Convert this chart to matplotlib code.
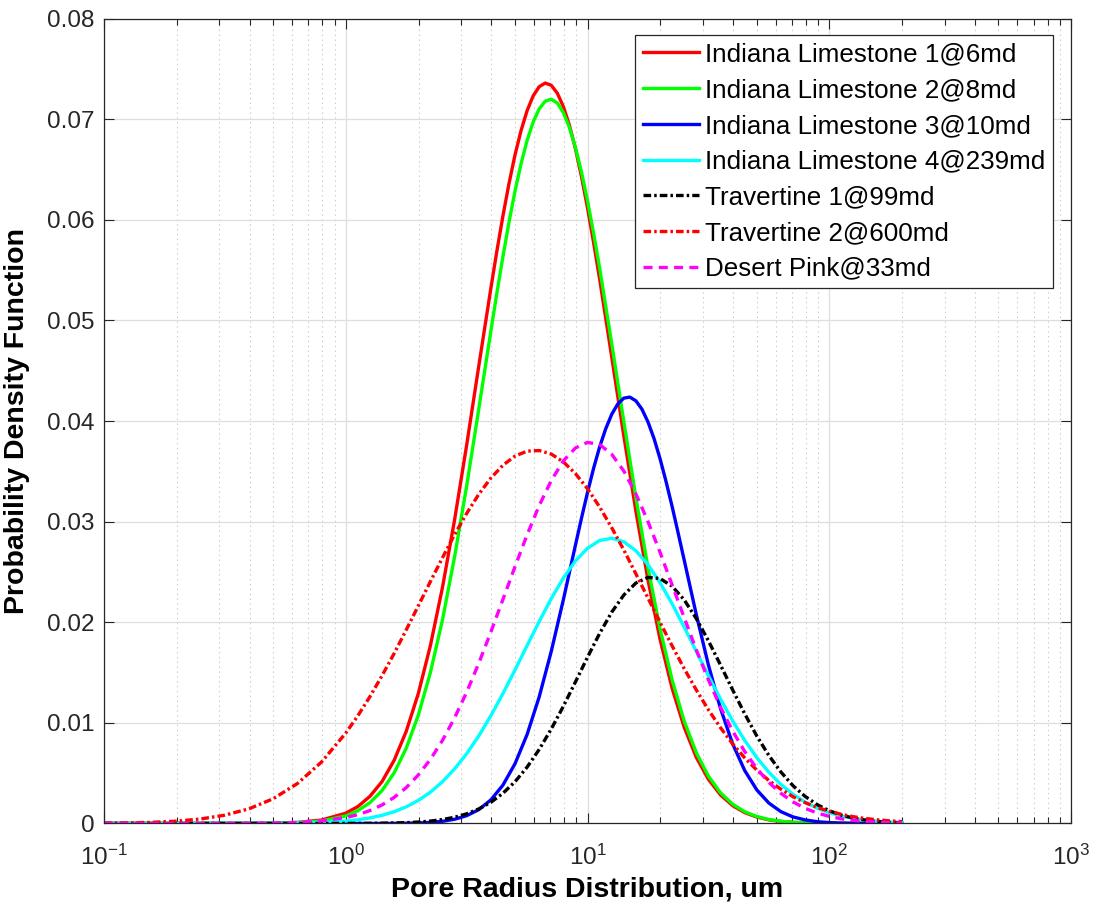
import numpy as np
import matplotlib
matplotlib.use("Agg")
import matplotlib.pyplot as plt
from matplotlib.ticker import LogLocator, FixedLocator, NullFormatter

plt.rcParams["font.family"] = ["Liberation Sans", "DejaVu Sans"]
plt.rcParams["mathtext.fontset"] = "custom"
plt.rcParams["mathtext.rm"] = "Liberation Sans"
plt.rcParams["mathtext.it"] = "Liberation Sans:italic"
plt.rcParams["lines.scale_dashes"] = False

# pore radius (um), shared by all curves
radius = [0.1, 0.126, 0.158, 0.2, 0.251, 0.316, 0.398, 0.501, 0.631, 0.794,
          1.0, 1.122, 1.259, 1.413, 1.585, 1.778, 1.995, 2.239, 2.512, 2.818,
          3.162, 3.548, 3.981, 4.467, 5.012, 5.623, 6.310, 7.079, 7.943, 8.913,
          10.0, 11.22, 12.59, 14.13, 15.85, 17.78, 19.95, 22.39, 25.12, 28.18,
          31.62, 35.48, 39.81, 44.67, 50.12, 56.23, 63.10, 70.79, 79.43, 89.13,
          100.0, 112.2, 125.9, 141.3, 158.5, 177.8, 200.0]

il1 = [0, 0, 0, 0, 0, 0, 0.000006, 0.000026, 0.0001, 0.00034,
       0.00102, 0.00168, 0.0027, 0.00417, 0.00628, 0.00915, 0.01291, 0.01769, 0.02347, 0.03016,
       0.0376, 0.04545, 0.05318, 0.06039, 0.06646, 0.07085, 0.07324, 0.07338, 0.07126, 0.06707,
       0.06118, 0.05413, 0.04638, 0.03852, 0.03104, 0.02422, 0.01831, 0.01342, 0.00955, 0.00657,
       0.00439, 0.00284, 0.00178, 0.00108, 0.00064, 0.00036, 0.0002, 0.00011, 0.00006, 0.00003,
       0.00001, 0, 0, 0, 0, 0, 0]
il2 = [0, 0, 0, 0, 0, 0, 0.000003, 0.000017, 0.000067, 0.00024,
       0.00075, 0.00127, 0.00207, 0.00328, 0.00503, 0.00747, 0.01076, 0.01501, 0.02024, 0.02649,
       0.03354, 0.04118, 0.04893, 0.05635, 0.06286, 0.06789, 0.07103, 0.07199, 0.07067, 0.0672,
       0.06189, 0.05522, 0.04771, 0.03994, 0.03238, 0.02542, 0.01935, 0.01425, 0.01016, 0.00703,
       0.00471, 0.00305, 0.00192, 0.00117, 0.00069, 0.00039, 0.00022, 0.00012, 0.00006, 0.00003,
       0.00001, 0, 0, 0, 0, 0, 0]
il3 = [0, 0, 0, 0, 0, 0, 0, 0, 0, 0,
       0, 0, 0, 0, 0.00001, 0.000022, 0.000049, 0.000104, 0.000213, 0.000415,
       0.000771, 0.00137, 0.00234, 0.00381, 0.00594, 0.00884, 0.01258, 0.01711, 0.02224, 0.02767,
       0.03291, 0.03742, 0.04067, 0.04228, 0.04201, 0.03992, 0.03626, 0.03149, 0.02616, 0.02076,
       0.01576, 0.01143, 0.00793, 0.00527, 0.00334, 0.00203, 0.00117, 0.00065, 0.00035, 0.000175,
       0.000085, 0.000039, 0.000017, 0.000007, 0, 0, 0]
il4 = [0, 0, 0, 0, 0, 0.000001, 0.000004, 0.000012, 0.000036, 0.000096,
       0.00024, 0.000366, 0.00055, 0.00081, 0.00117, 0.00165, 0.00229, 0.00311, 0.00415, 0.00542,
       0.00693, 0.0087, 0.01071, 0.01291, 0.01526, 0.01768, 0.02007, 0.02236, 0.0244, 0.0261,
       0.02736, 0.02813, 0.02835, 0.028, 0.02711, 0.02573, 0.02393, 0.02183, 0.01951, 0.0171,
       0.01469, 0.01237, 0.01021, 0.00826, 0.00655, 0.00509, 0.00388, 0.0029, 0.00212, 0.00152,
       0.00107, 0.00074, 0.0005, 0.00033, 0.000215, 0.000137, 0.000085]
trav1 = [0, 0, 0, 0, 0, 0, 0, 0, 0, 0,
         0.000004, 0.000007, 0.000013, 0.000025, 0.000046, 0.000081, 0.00014, 0.000236, 0.000387, 0.000616,
         0.000954, 0.00144, 0.0021, 0.003, 0.00415, 0.0056, 0.00736, 0.00939, 0.01165, 0.01407,
         0.01653, 0.01889, 0.021, 0.02271, 0.0239, 0.02446, 0.02435, 0.02358, 0.02222, 0.02037,
         0.01816, 0.01575, 0.01329, 0.01091, 0.0087, 0.00676, 0.00511, 0.00375, 0.00269, 0.00187,
         0.00126, 0.00083, 0.00053, 0.00033, 0.0002, 0.00012, 0.000068]
trav2 = [0.000024, 0.000053, 0.000113, 0.000229, 0.000445, 0.000825, 0.00146, 0.00246, 0.00397, 0.00611,
         0.00899, 0.01071, 0.01261, 0.0147, 0.0169, 0.01924, 0.02163, 0.02405, 0.02642, 0.02871,
         0.03082, 0.03272, 0.03433, 0.03561, 0.03652, 0.03701, 0.03707, 0.03672, 0.03594, 0.03478,
         0.03327, 0.03146, 0.0294, 0.02718, 0.02481, 0.02241, 0.01999, 0.01765, 0.01538, 0.01327,
         0.0113, 0.00952, 0.00792, 0.00652, 0.00531, 0.00427, 0.0034, 0.00266, 0.00207, 0.00159,
         0.00121, 0.00091, 0.00067, 0.00049, 0.00036, 0.00026, 0.00018]
desert = [0, 0, 0, 0, 0, 0.000003, 0.000011, 0.000034, 0.000095, 0.000246,
          0.000584, 0.000874, 0.00128, 0.00184, 0.00259, 0.00356, 0.00482, 0.00637, 0.00826, 0.01049,
          0.01305, 0.01592, 0.01903, 0.02227, 0.02553, 0.02869, 0.0316, 0.03409, 0.03604, 0.03733,
          0.03788, 0.03767, 0.0367, 0.03503, 0.03276, 0.03002, 0.02695, 0.0237, 0.02045, 0.01726,
          0.01428, 0.01157, 0.0092, 0.00716, 0.00546, 0.00408, 0.00299, 0.00214, 0.0015, 0.00104,
          0.0007, 0.00046, 0.0003, 0.00019, 0.000118, 0.000072, 0.000043]

# extra readings around the narrow peaks
peak_r_a = [4.217, 4.732, 5.309, 5.957, 6.683, 7.499, 8.414, 9.441, 10.59]
il1_peak = [0.0569, 0.0636, 0.06888, 0.07232, 0.0736, 0.07259, 0.0694, 0.06431, 0.05777]
il2_peak = [0.05273, 0.05975, 0.06558, 0.06972, 0.0718, 0.07162, 0.06919, 0.06475, 0.0587]
peak_r_b = [9.441, 10.59, 11.89, 13.34, 14.96, 16.79, 18.84, 21.13, 23.71]
il3_peak = [0.03035, 0.03529, 0.03923, 0.0417, 0.04238, 0.04118, 0.03826, 0.03398, 0.02886]

labels = ["Indiana Limestone 1@6md", "Indiana Limestone 2@8md",
          "Indiana Limestone 3@10md", "Indiana Limestone 4@239md",
          "Travertine 1@99md", "Travertine 2@600md", "Desert Pink@33md"]


def merged(extra_r, extra_y, y):
    r = np.array(radius + extra_r)
    v = np.array(y + extra_y)
    order = np.argsort(r, kind="stable")
    return r[order], v[order]


curves = [merged(peak_r_a, il1_peak, il1),
          merged(peak_r_a, il2_peak, il2),
          merged(peak_r_b, il3_peak, il3),
          (radius, il4), (radius, trav1), (radius, trav2), (radius, desert)]
colors = ["#ff0000", "#00ff00", "#0000ff", "#00ffff", "#000000", "#ff0000", "#ff00ff"]
dashdot = (0, (5.5, 2.2, 1.8, 2.2))
styles = ["-", "-", "-", "-", dashdot, dashdot, (0, (6.5, 4.5))]

fig = plt.figure(figsize=(10.94, 9.11), dpi=100)
ax = fig.add_axes([0.0951, 0.0961, 0.8839, 0.8834])

for (r, y), c, ls, lab in zip(curves, colors, styles, labels):
    ax.plot(r, y, color=c, linestyle=ls, linewidth=2.4, label=lab,
            solid_joinstyle="round")

ax.set_xscale("log")
ax.set_xlim(0.1, 1000)
ax.set_ylim(0, 0.08)
ax.set_yticks(np.arange(0, 0.081, 0.01))
ax.set_yticklabels(["0", "0.01", "0.02", "0.03", "0.04", "0.05", "0.06", "0.07", "0.08"])
ax.xaxis.set_major_locator(FixedLocator([0.1, 1, 10, 100, 1000]))
ax.xaxis.set_minor_locator(LogLocator(base=10, subs=np.arange(2, 10), numticks=20))
ax.xaxis.set_minor_formatter(NullFormatter())

edge = "#262626"
ax.tick_params(which="both", direction="in", top=True, right=True, colors=edge,
               labelsize=17.5)
ax.tick_params(axis="y", pad=7)
ax.tick_params(axis="x", pad=15)
ax.tick_params(which="major", length=7, width=0.8)
ax.tick_params(which="minor", length=4, width=0.8)
for sp in ax.spines.values():
    sp.set_color(edge)
    sp.set_linewidth(0.9)

ax.grid(which="major", color="#dedede", linestyle="-", linewidth=0.9)
ax.xaxis.grid(which="minor", color="#cccccc", linestyle=(0, (1, 2.5)), linewidth=0.8)
ax.set_axisbelow(True)

ax.set_xlabel("Pore Radius Distribution, um", fontsize=20.5, fontweight="bold", labelpad=5)
ax.set_ylabel("Probability Density Function", fontsize=20.5, fontweight="bold", labelpad=12)

leg = ax.legend(loc="upper right", bbox_to_anchor=(0.981, 0.98), fontsize=18.7,
                frameon=True, fancybox=False, edgecolor=edge, framealpha=1,
                borderaxespad=0, handlelength=2.15, handletextpad=0.22,
                labelspacing=0.45, borderpad=0.3)
leg.get_frame().set_linewidth(0.9)

fig.savefig("out.png", dpi=100)
